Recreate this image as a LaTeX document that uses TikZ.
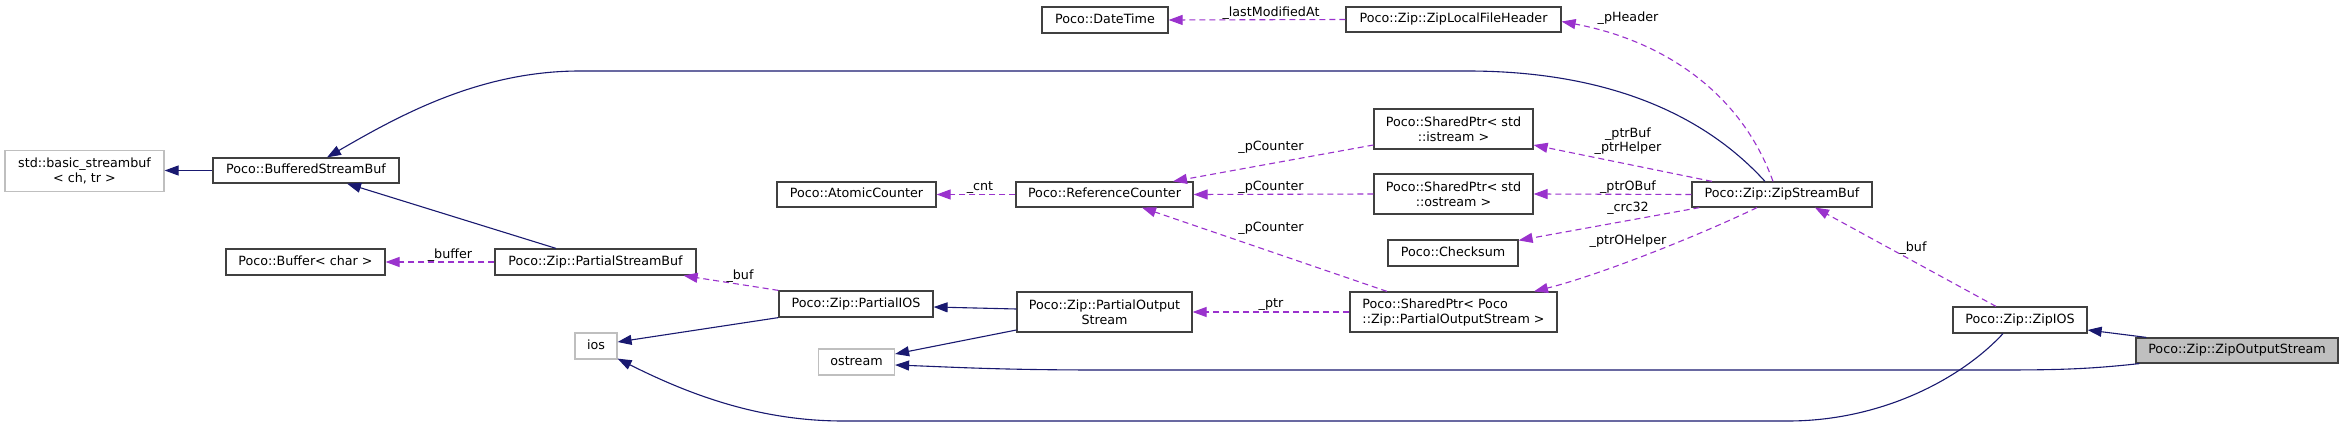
\documentclass[tikz,border=0pt]{standalone}
\usepackage{fontspec}
\setmainfont{DejaVu Sans}
\usetikzlibrary{arrows.meta}
\definecolor{inhblue}{HTML}{191970}
\definecolor{mempurple}{HTML}{9A32CD}
\definecolor{extgray}{HTML}{BFBFBF}
\definecolor{boxborder}{HTML}{404040}
\begin{document}
\begin{tikzpicture}[x=1pt,y=-1pt,
  cls/.style={draw=boxborder, line width=1.2pt, inner sep=0pt, font=\fontsize{12.7}{15}\selectfont, align=center, fill=white},
  one/.style={text height=9.6pt, text depth=3pt},
  ext/.style={cls, draw=extgray},
  lbl/.style={inner sep=0pt, font=\fontsize{12.7}{14}\selectfont, align=center},
  inh/.style={draw=inhblue, line width=1.1pt, -{Triangle[length=14pt,width=10pt]}},
  mem/.style={draw=mempurple, line width=1.1pt, dash pattern=on 6pt off 4pt, -{Triangle[length=14pt,width=10pt]}},
]
\useasboundingbox[fill=white] (0,0) rectangle (2344,427);

% nodes
\node[ext, minimum width=159pt, minimum height=41pt] (std) at (84.5,171) {std::basic\_streambuf\\\textless{} ch, tr \textgreater};
\node[cls,one, minimum width=186pt, minimum height=25pt] (bsb) at (306,170.5) {Poco::BufferedStreamBuf};
\node[cls,one, minimum width=159pt, minimum height=26pt] (buffer) at (305.5,262) {Poco::Buffer\textless{} char \textgreater};
\node[cls,one, minimum width=201pt, minimum height=26pt] (psb) at (595.5,262) {Poco::Zip::PartialStreamBuf};
\node[ext,one, minimum width=42pt, minimum height=26pt] (ios) at (596,346) {ios};
\node[ext,one, minimum width=76pt, minimum height=26pt] (ostream) at (856.5,362) {ostream};
\node[cls,one, minimum width=154pt, minimum height=26pt] (pios) at (856,304) {Poco::Zip::PartialIOS};
\node[cls,one, minimum width=159pt, minimum height=25pt] (ac) at (856.5,194.5) {Poco::AtomicCounter};
\node[cls,one, minimum width=177pt, minimum height=25pt] (rc) at (1104.5,194.5) {Poco::ReferenceCounter};
\node[cls, minimum width=175pt, minimum height=40pt] (pos) at (1104.5,312) {Poco::Zip::PartialOutput\\Stream};
\node[cls,one, minimum width=126pt, minimum height=26pt] (dt) at (1105,20) {Poco::DateTime};
\node[cls,one, minimum width=215pt, minimum height=25pt] (zlfh) at (1453.5,19.5) {Poco::Zip::ZipLocalFileHeader};
\node[cls, minimum width=159pt, minimum height=40pt] (spis) at (1453.5,129) {Poco::SharedPtr\textless{} std\\::istream \textgreater};
\node[cls, minimum width=159pt, minimum height=40pt] (spos) at (1453.5,194) {Poco::SharedPtr\textless{} std\\::ostream \textgreater};
\node[cls,one, minimum width=130pt, minimum height=26pt] (cs) at (1453,253) {Poco::Checksum};
\node[cls, align=left, minimum width=207pt, minimum height=40pt] (sppos) at (1453.5,312) {Poco::SharedPtr\textless{} Poco\\::Zip::PartialOutputStream \textgreater};
\node[cls,one, minimum width=180pt, minimum height=25pt] (zsb) at (1782,194.5) {Poco::Zip::ZipStreamBuf};
\node[cls,one, minimum width=134pt, minimum height=26pt] (zios) at (2020,320) {Poco::Zip::ZipIOS};
\node[cls,one, fill=extgray, minimum width=202pt, minimum height=25pt] (zos) at (2237,350.5) {Poco::Zip::ZipOutputStream};

% inheritance
\draw[inh] (bsb.west) -- (std.east |- bsb.west);
\draw[inh] ([xshift=-17pt]zsb.north) .. controls (1700,110) and (1600,71) .. (1467,71) -- (580,71) .. controls (480,71) and (400,115) .. ([xshift=21pt]bsb.north);
\draw[inh] ([xshift=-39.5pt]psb.north) -- ([xshift=41pt]bsb.south);
\draw[inh] (pios.south west) -- ([yshift=4pt]ios.east);
\draw[inh] ([yshift=3pt]pos.west) -- ([yshift=-3pt]pios.east);
\draw[inh] ([yshift=-18pt]pos.west) -- ([yshift=8pt]ostream.east);
\draw[inh] ([xshift=4pt]zos.south west) .. controls (2090,369) and (2060,370) .. (2000,370) -- (1100,370) .. controls (1000,370) and (950,367) .. ([yshift=-3pt]ostream.east);
\draw[inh] ([xshift=11pt]zos.north west) -- ([yshift=-10pt]zios.east);
\draw[inh] ([xshift=-17pt]zios.south) .. controls (1960,380) and (1880,421) .. (1788,421) -- (843,421) .. controls (760,421) and (690,395) .. ([yshift=1pt]ios.south east);

% members
\draw[mem] (psb.west) -- (buffer.east);
\draw[mem] (zlfh.west) -- (dt.east);
\draw[mem] ([xshift=-9pt]zsb.north) .. controls (1740,90) and (1660,40) .. ([yshift=-2pt]zlfh.east);
\draw[mem] ([xshift=-70pt]zsb.north) -- ([yshift=-16pt]spis.east);
\draw[mem] (zsb.west) -- (spos.east);
\draw[mem] ([xshift=8pt]zsb.south west) -- ([yshift=-1pt]cs.north east);
\draw[mem] ([xshift=-25pt]zsb.south) .. controls (1700,235) and (1600,275) .. ([xshift=80.5pt]sppos.north);
\draw[mem] ([xshift=-24pt]zios.north) -- ([xshift=33pt]zsb.south);
\draw[mem] ([yshift=-16pt]spis.west) -- ([xshift=68.5pt]rc.north);
\draw[mem] (spos.west) -- (rc.east);
\draw[mem] ([xshift=-66.5pt]sppos.north) -- ([xshift=37.5pt]rc.south);
\draw[mem] (rc.west) -- (ac.east);
\draw[mem] (sppos.west) -- (pos.east);
\draw[mem] (pios.north west) -- ([xshift=-13pt]psb.south east);

% labels
\node[lbl] (lbuffer) at (450,255) {\_buffer};
\node[lbl] (llma) at (1271,13.5) {\_lastModifiedAt};
\node[lbl] (lcnt) at (980,188) {\_cnt};
\node[lbl] (lpc1) at (1271,147.5) {\_pCounter};
\node[lbl] (lpc2) at (1271,187.5) {\_pCounter};
\node[lbl] (lpc3) at (1271,228.5) {\_pCounter};
\node[lbl] (lptr) at (1271,304.5) {\_ptr};
\node[lbl] (lbuf1) at (740,276.5) {\_buf};
\node[lbl] (lph) at (1628,18.5) {\_pHeader};
\node[lbl] (lpb) at (1628,141.5) {\_ptrBuf\\\_ptrHelper};
\node[lbl] (lpob) at (1628,187.5) {\_ptrOBuf};
\node[lbl] (lcrc) at (1628,208) {\_crc32};
\node[lbl] (lpoh) at (1628,241.5) {\_ptrOHelper};
\node[lbl] (lbuf2) at (1913,248.5) {\_buf};
\end{tikzpicture}
\end{document}
